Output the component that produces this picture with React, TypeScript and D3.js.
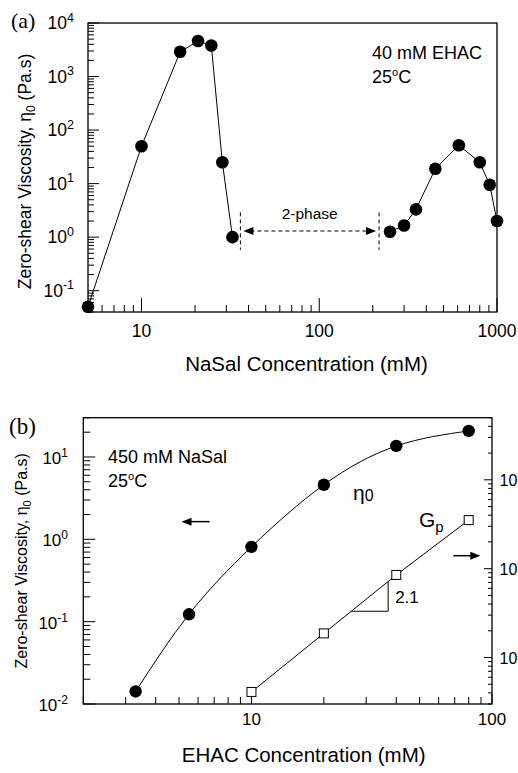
import React from 'react';
import * as d3 from 'd3';

// ---------- Panel (a): viscosity vs NaSal at 40 mM EHAC ----------
const lowSaltConc = [5, 10, 16.5, 20.8, 24.7, 28.5, 32.5];
const lowSaltEta = [0.05, 50, 2900, 4600, 3800, 25, 1.0];
const highSaltConc = [250, 300, 350, 450, 610, 800, 910, 1000];
const highSaltEta = [1.26, 1.65, 3.3, 19, 52, 25, 9.5, 2.0];
const twoPhaseBounds = [36, 217];
const twoPhaseLabel = '2-phase';
const panelAXTicks = [10, 100, 1000];
const panelAYExps = [4, 3, 2, 1, 0, -1];

// ---------- Panel (b): viscosity & plateau modulus vs EHAC at 450 mM NaSal ----------
const ehacConc = [3.3, 5.5, 10, 20, 40, 80];
const eta0Values = [0.0142, 0.123, 0.81, 4.6, 13.6, 20.7];
const gpConc = [10, 20, 40, 80];
const gpValues = [0.41, 1.87, 8.5, 35.2];
const slopeConc = [26, 37];
const slopeLabel = '2.1';
const panelBXTicks = [10, 100];
const panelBYExps = [1, 0, -1, -2];
const panelBRightTicks = [100, 10, 1];

const SANS = "'Liberation Sans', Arial, Helvetica, sans-serif";
const SERIF = "'Liberation Serif', 'Times New Roman', serif";

function logTicks(domain: number[]) {
  const [a, b] = domain[0] < domain[1] ? domain : [domain[1], domain[0]];
  const out: { v: number; major: boolean }[] = [];
  for (let e = Math.floor(Math.log10(a)); e <= Math.ceil(Math.log10(b)); e++) {
    for (let m = 1; m <= 9; m++) {
      const v = m * Math.pow(10, e);
      if (v >= a * 0.999 && v <= b * 1.001) out.push({ v, major: m === 1 });
    }
  }
  return out;
}

function Pow10({ x, y, exp, anchor, size, supSize }: any) {
  return (
    <text x={x} y={y} textAnchor={anchor} fontFamily={SANS} fontSize={size}>
      <tspan>10</tspan>
      <tspan dy={-size * 0.42} fontSize={supSize}>{exp}</tspan>
    </text>
  );
}

export default function App() {
  // ---- scales panel a
  const ax = d3.scaleLog().domain([5, 1000]).range([88, 497]);
  const ay = d3.scaleLog().domain([0.04, 1e4]).range([312, 23]);
  // ---- scales panel b
  const bx = d3.scaleLog().domain([2, 100]).range([83.3, 492]);
  const by = d3.scaleLog().domain([0.01, 30]).range([704, 417.7]);
  const byR = d3.scaleLog().domain([0.3, 500]).range([704, 417.7]);

  const lineA = d3.line<[number, number]>().x((d) => ax(d[0])).y((d) => ay(d[1]));
  const lowPts = lowSaltConc.map((c, i) => [c, lowSaltEta[i]] as [number, number]);
  const highPts = highSaltConc.map((c, i) => [c, highSaltEta[i]] as [number, number]);

  const etaCurve = d3
    .line<[number, number]>()
    .x((d) => bx(d[0]))
    .y((d) => by(d[1]))
    .curve(d3.curveNatural);
  const etaPts = ehacConc.map((c, i) => [c, eta0Values[i]] as [number, number]);
  const gpLine = d3.line<[number, number]>().x((d) => bx(d[0])).y((d) => byR(d[1]));
  const gpPts = gpConc.map((c, i) => [c, gpValues[i]] as [number, number]);

  // slope triangle on Gp line (interpolate in log space between 20 and 40)
  const gpAt = (c: number) => {
    const t = (Math.log10(c) - Math.log10(gpConc[1])) / (Math.log10(gpConc[2]) - Math.log10(gpConc[1]));
    return Math.pow(10, Math.log10(gpValues[1]) + t * (Math.log10(gpValues[2]) - Math.log10(gpValues[1])));
  };
  const triX0 = bx(slopeConc[0]);
  const triX1 = bx(slopeConc[1]);
  const triY0 = byR(gpAt(slopeConc[0]));
  const triY1 = byR(gpAt(slopeConc[1]));

  const xTicksA = logTicks(ax.domain());
  const yTicksA = logTicks(ay.domain());
  const xTicksB = logTicks(bx.domain());
  const yTicksB = logTicks(by.domain());
  const yTicksBR = logTicks(byR.domain());

  // two-phase arrow geometry
  const tpX0 = ax(twoPhaseBounds[0]);
  const tpX1 = ax(twoPhaseBounds[1]);
  const tpY = ay(1.3);
  const tpTop = ay(2.9);
  const tpBot = ay(0.58);

  const [aL, aR] = ax.range();
  const [aB, aT] = ay.range();
  const [bL, bR] = bx.range();
  const [bB, bT] = by.range();

  // panel b arrows (data coords)
  const leftArrow = { x0: bx(6.7), x1: bx(5.12), y: by(1.64) };
  const rightArrow = { x0: bx(69), x1: bx(89.4), y: byR(14) };

  return (
    <svg
      width={518}
      height={773}
      style={{ position: 'absolute', left: 0, top: 0, background: '#fff' }}
      fontFamily={SANS}
    >
      <rect x={0} y={0} width={518} height={773} fill="#fff" />

      {/* ================= Panel (a) ================= */}
      <text x={11} y={28} fontFamily={SERIF} fontSize={22}>(a)</text>
      <rect x={aL} y={aT} width={aR - aL} height={aB - aT} fill="none" stroke="#000" strokeWidth={1.3} />
      {xTicksA.map((t, i) => (
        <line key={'ax' + i} x1={ax(t.v)} x2={ax(t.v)} y1={aB} y2={aB - (t.major ? 14 : 7)} stroke="#000" strokeWidth={1} />
      ))}
      {yTicksA.map((t, i) => (
        <line key={'ay' + i} x1={aL} x2={aL + (t.major ? 11 : 6)} y1={ay(t.v)} y2={ay(t.v)} stroke="#000" strokeWidth={1} />
      ))}
      {panelAXTicks.map((v) => (
        <text key={'axl' + v} x={ax(v)} y={337} textAnchor="middle" fontSize={17.5}>{v}</text>
      ))}
      {panelAYExps.map((e) => (
        <Pow10 key={'ayl' + e} x={74} y={ay(Math.pow(10, e)) + 6} exp={e} anchor="end" size={17.5} supSize={12.5} />
      ))}
      <text x={aL + (aR - aL) / 2 + 14} y={371} textAnchor="middle" fontSize={20.5}>NaSal Concentration (mM)</text>
      <text transform={`translate(31, ${(aT + aB) / 2 + 4}) rotate(-90)`} textAnchor="middle" fontSize={17.5}>
        Zero-shear Viscosity, η<tspan dy={4} fontSize={12}>0</tspan><tspan dy={-4}> (Pa.s)</tspan>
      </text>

      <path d={lineA(lowPts) || ''} fill="none" stroke="#000" strokeWidth={1} />
      <path d={lineA(highPts) || ''} fill="none" stroke="#000" strokeWidth={1} />
      {lowPts.concat(highPts).map((d, i) => (
        <circle key={'ca' + i} cx={ax(d[0])} cy={ay(d[1])} r={6.3} fill="#000" />
      ))}

      {/* two-phase annotation */}
      <line x1={tpX0} x2={tpX0} y1={tpTop} y2={tpBot} stroke="#000" strokeWidth={1} strokeDasharray="4,3" />
      <line x1={tpX1} x2={tpX1} y1={tpTop} y2={tpBot} stroke="#000" strokeWidth={1} strokeDasharray="4,3" />
      <line x1={tpX0 + 10} x2={tpX1 - 12} y1={tpY} y2={tpY} stroke="#000" strokeWidth={1.1} strokeDasharray="4,3" />
      <path d={`M${tpX0 + 3},${tpY} L${tpX0 + 13},${tpY - 4} L${tpX0 + 13},${tpY + 4} Z`} fill="#000" />
      <path d={`M${tpX1 - 3},${tpY} L${tpX1 - 13},${tpY - 4} L${tpX1 - 13},${tpY + 4} Z`} fill="#000" />
      <text x={(tpX0 + tpX1) / 2} y={tpY - 12} textAnchor="middle" fontSize={15.5}>{twoPhaseLabel}</text>

      <text x={372} y={59} fontSize={18}>40 mM EHAC</text>
      <text x={372} y={83} fontSize={18}>
        25<tspan dy={-7} fontSize={11}>o</tspan><tspan dy={7}>C</tspan>
      </text>

      {/* ================= Panel (b) ================= */}
      <text x={9} y={434} fontFamily={SERIF} fontSize={23}>(b)</text>
      <rect x={bL} y={bT} width={bR - bL} height={bB - bT} fill="none" stroke="#000" strokeWidth={1.3} />
      {xTicksB.map((t, i) => (
        <line key={'bx' + i} x1={bx(t.v)} x2={bx(t.v)} y1={bB} y2={bB - (t.major ? 10 : 7)} stroke="#000" strokeWidth={1} />
      ))}
      {yTicksB.map((t, i) => (
        <line key={'by' + i} x1={bL} x2={bL + (t.major ? 12 : 7)} y1={by(t.v)} y2={by(t.v)} stroke="#000" strokeWidth={1} />
      ))}
      {yTicksBR.map((t, i) => (
        <line key={'byr' + i} x1={bR} x2={bR - (t.major ? 8 : 4)} y1={byR(t.v)} y2={byR(t.v)} stroke="#000" strokeWidth={1} />
      ))}
      {panelBXTicks.map((v) => (
        <text key={'bxl' + v} x={bx(v)} y={725} textAnchor="middle" fontSize={17}>{v}</text>
      ))}
      {panelBYExps.map((e) => (
        <Pow10 key={'byl' + e} x={68} y={by(Math.pow(10, e)) + 7} exp={e} anchor="end" size={17} supSize={12} />
      ))}
      {/* right-axis labels: only the visible "10" part of each label fits the picture */}
      {panelBRightTicks.map((v) => (
        <text key={'byrl' + v} x={499.5} y={byR(v) + 6} fontSize={16}>10</text>
      ))}
      <text x={bL + (bR - bL) / 2 + 16} y={762} textAnchor="middle" fontSize={20.5}>EHAC Concentration (mM)</text>
      <text transform={`translate(27, ${(bT + bB) / 2 + 0}) rotate(-90)`} textAnchor="middle" fontSize={16}>
        Zero-shear Viscosity, η<tspan dy={4} fontSize={11}>0</tspan><tspan dy={-4}> (Pa.s)</tspan>
      </text>

      <path d={etaCurve(etaPts) || ''} fill="none" stroke="#000" strokeWidth={1} />
      {etaPts.map((d, i) => (
        <circle key={'cb' + i} cx={bx(d[0])} cy={by(d[1])} r={6.2} fill="#000" />
      ))}
      <path d={gpLine(gpPts) || ''} fill="none" stroke="#000" strokeWidth={1} />
      {gpPts.map((d, i) => (
        <rect key={'sq' + i} x={bx(d[0]) - 4.5} y={byR(d[1]) - 4.5} width={9} height={9} fill="#fff" stroke="#000" strokeWidth={1} />
      ))}
      {/* slope triangle */}
      <path d={`M${triX0},${triY0} L${triX1},${triY0} L${triX1},${triY1}`} fill="none" stroke="#000" strokeWidth={1} />
      <text x={triX1 + 7} y={(triY0 + triY1) / 2 + 7} fontSize={17}>{slopeLabel}</text>

      {/* labels */}
      <text x={353} y={500} fontSize={21}>
        η<tspan dy={1} fontSize={16}>0</tspan>
      </text>
      <text x={419} y={527} fontSize={21}>
        G<tspan dy={5} fontSize={15}>p</tspan>
      </text>
      <text x={108} y={463} fontSize={18}>450 mM NaSal</text>
      <text x={108} y={479 + 8} fontSize={18}>
        25<tspan dy={-7} fontSize={11}>o</tspan><tspan dy={7}>C</tspan>
      </text>

      {/* direction arrows */}
      <line x1={leftArrow.x0} x2={leftArrow.x1 + 8} y1={leftArrow.y} y2={leftArrow.y} stroke="#000" strokeWidth={1.5} />
      <path d={`M${leftArrow.x1},${leftArrow.y} L${leftArrow.x1 + 10},${leftArrow.y - 4} L${leftArrow.x1 + 10},${leftArrow.y + 4} Z`} fill="#000" />
      <line x1={rightArrow.x0} x2={rightArrow.x1 - 8} y1={rightArrow.y} y2={rightArrow.y} stroke="#000" strokeWidth={1.5} />
      <path d={`M${rightArrow.x1},${rightArrow.y} L${rightArrow.x1 - 10},${rightArrow.y - 4} L${rightArrow.x1 - 10},${rightArrow.y + 4} Z`} fill="#000" />
    </svg>
  );
}
